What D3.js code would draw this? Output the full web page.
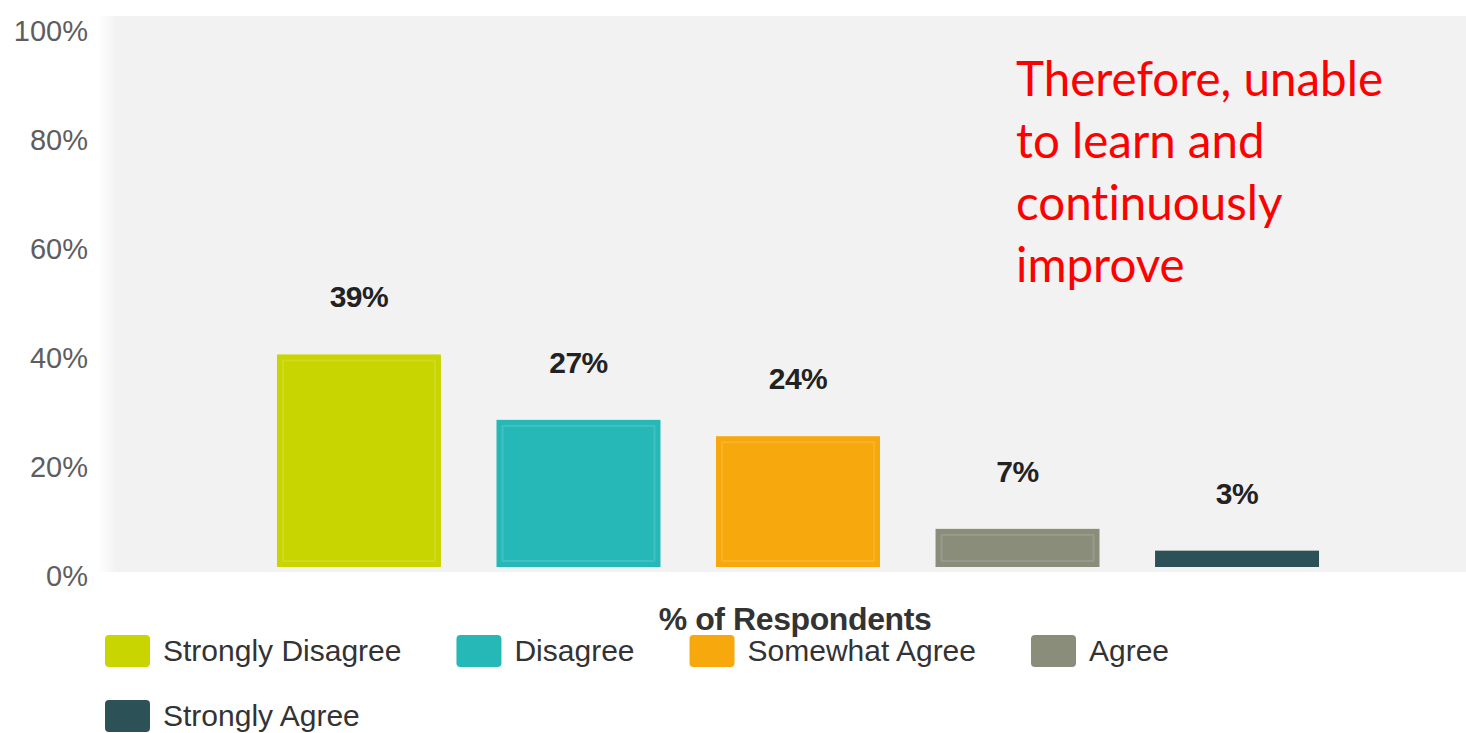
<!DOCTYPE html>
<html>
<head>
<meta charset="utf-8">
<script src="https://cdn.jsdelivr.net/npm/d3@7"></script>
<style>
  html, body { margin: 0; padding: 0; background: #ffffff; }
  svg { display: block; }
</style>
</head>
<body>
<svg id="chart" width="1466" height="733"></svg>
<script>
// Survey responses
const categories = ["Strongly Disagree", "Disagree", "Somewhat Agree", "Agree", "Strongly Agree"];
const values = [39, 27, 24, 7, 3];
const yTicks = [0, 20, 40, 60, 80, 100];
const axisTitle = "% of Respondents";
const noteLines = ["Therefore, unable", "to learn and", "continuously", "improve"];

// Palette, one colour per category
const palette = ["#c9d500", "#26b8b6", "#f7a80c", "#8b8d7b", "#2c5257"];

const W = 1466, H = 733;
const svg = d3.select("#chart");

const y = d3.scaleLinear().domain([0, 100]).range([567, 22]);
const x = d3.scaleBand()
  .domain(categories)
  .range([140, 1456])
  .paddingInner(0.253)
  .paddingOuter(0.624);
const color = d3.scaleOrdinal().domain(categories).range(palette);

// soft plot background
const defs = svg.append("defs");
const edge = defs.append("linearGradient").attr("id", "leftEdge")
  .attr("x1", "0").attr("x2", "1").attr("y1", "0").attr("y2", "0");
edge.append("stop").attr("offset", "0").attr("stop-color", "#ffffff");
edge.append("stop").attr("offset", "1").attr("stop-color", "#f2f2f2");

svg.append("rect")
  .attr("x", 115).attr("y", y(100) - 6)
  .attr("width", W - 115).attr("height", y(0) - y(100) + 11)
  .attr("fill", "#f2f2f2");
svg.append("rect")
  .attr("x", 98).attr("y", y(100) - 6)
  .attr("width", 18).attr("height", y(0) - y(100) + 11)
  .attr("fill", "url(#leftEdge)");

// y axis labels
const yAxis = d3.axisLeft(y)
  .tickValues(yTicks)
  .tickFormat(d => d + "%")
  .tickSize(0)
  .tickPadding(0);
const gy = svg.append("g")
  .attr("transform", "translate(88,9)")
  .call(yAxis);
gy.select(".domain").remove();
gy.selectAll("text")
  .attr("font-family", "Arial, 'Liberation Sans', sans-serif")
  .attr("font-size", 29)
  .attr("fill", "#5e5e5e");

// bars
const bars = svg.append("g");
categories.forEach((c, i) => {
  const v = values[i];
  const x0 = x(c), bw = x.bandwidth();
  const y0 = y(v), h = y(0) - y(v);
  bars.append("rect")
    .attr("x", x0).attr("y", y0)
    .attr("width", bw).attr("height", h)
    .attr("fill", color(c));
  if (h > 20) {
    bars.append("rect")
      .attr("x", x0 + 6).attr("y", y0 + 6)
      .attr("width", bw - 12).attr("height", h - 12)
      .attr("fill", "none")
      .attr("stroke", "#ffffff")
      .attr("stroke-opacity", 0.12)
      .attr("stroke-width", 2);
  }
  bars.append("text")
    .attr("x", x0 + bw / 2)
    .attr("y", y0 - 47)
    .attr("text-anchor", "middle")
    .attr("font-family", "Arial, 'Liberation Sans', sans-serif")
    .attr("font-weight", "bold")
    .attr("font-size", 30)
    .attr("letter-spacing", -0.5)
    .attr("fill", "#222222")
    .text(v + "%");
});

// axis title
svg.append("text")
  .attr("x", 795).attr("y", 630)
  .attr("text-anchor", "middle")
  .attr("font-family", "Arial, 'Liberation Sans', sans-serif")
  .attr("font-weight", "bold")
  .attr("font-size", 32)
  .attr("letter-spacing", -0.4)
  .attr("fill", "#333333")
  .text(axisTitle);

// legend, flowing left to right and wrapping
const legend = svg.append("g");
let lx = 105, ly = 651;
const legendRight = 1260, gap = 55;
categories.forEach((c) => {
  const item = legend.append("g");
  item.append("rect")
    .attr("x", 0).attr("y", -16)
    .attr("width", 45).attr("height", 32)
    .attr("rx", 4)
    .attr("fill", color(c));
  const t = item.append("text")
    .attr("x", 58).attr("y", 10)
    .attr("font-family", "Arial, 'Liberation Sans', sans-serif")
    .attr("font-size", 30)
    .attr("fill", "#333333")
    .text(c);
  const w = 58 + t.node().getComputedTextLength();
  if (lx + w > legendRight) { lx = 105; ly += 65; }
  item.attr("transform", `translate(${lx},${ly})`);
  lx += w + gap;
});

// red note
const note = svg.append("text")
  .attr("font-family", "Lato, 'Open Sans', sans-serif")
  .attr("font-size", 47.5)
  .style("font-variant-ligatures", "none")
  .attr("fill", "#ff0000");
noteLines.forEach((line, i) => {
  note.append("tspan")
    .attr("x", 1016)
    .attr("y", 96 + i * 62)
    .text(line);
});
</script>
</body>
</html>
